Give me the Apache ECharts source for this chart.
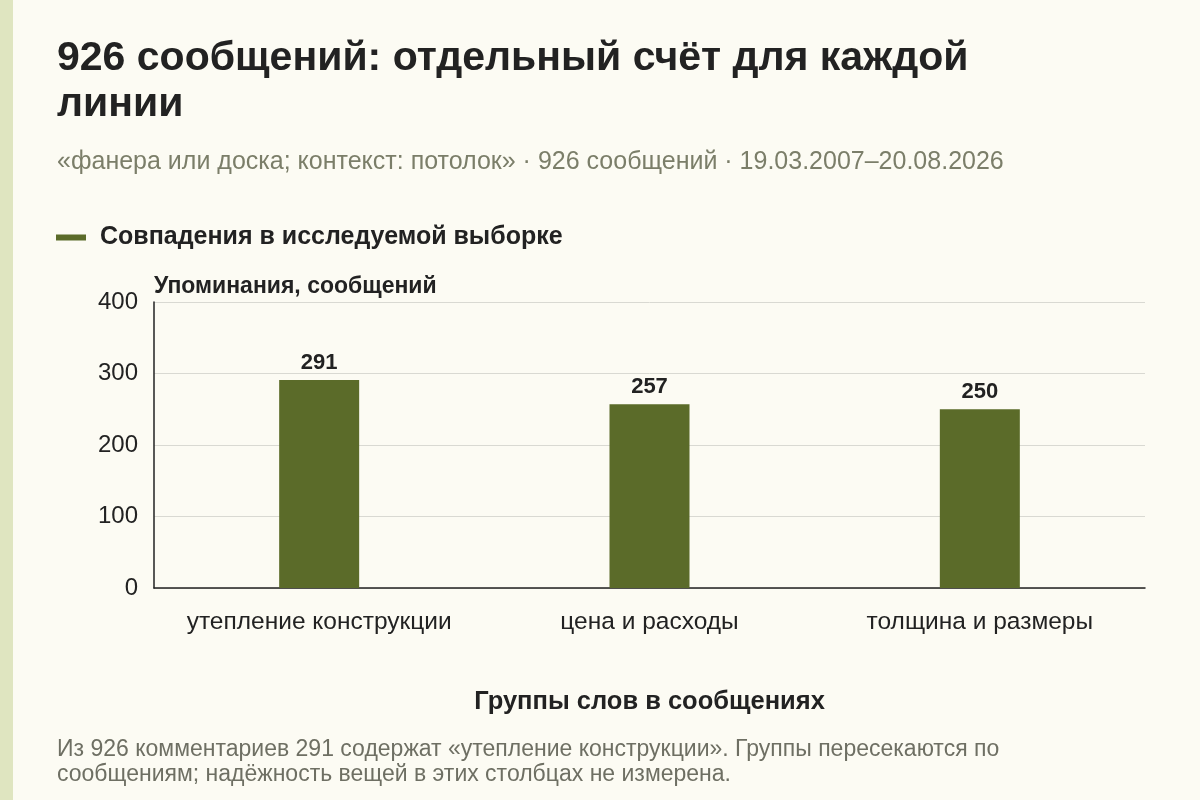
<!DOCTYPE html>
<html>
<head>
	<meta charset="utf-8">
	<title>926 сообщений</title>
	<script src="https://cdn.jsdelivr.net/npm/echarts@6/dist/echarts.min.js"></script>
	<style>
		body{margin:0;background:#fcfbf3;}
		#strip{position:absolute;left:0;top:0;width:13px;height:800px;background:#dfe5c0;}
	</style>
</head>
<body>
	<div id="strip"></div>
	<div id="container" style="width:1200px;height:800px;"></div>
	<script type="text/javascript">
	// данные графика
	var groups=["утепление конструкции","цена и расходы","толщина и размеры"];
	var counts=[291,257,250];
	var yTicks=[0,100,200,300,400];
	var seriesName="Совпадения в исследуемой выборке";

	var font='"Liberation Sans", Arial, sans-serif';
	var green='#5b6b29';

	var myChart=echarts.init(document.getElementById("container"));
	myChart.setOption({
		backgroundColor:'transparent',
		textStyle:{fontFamily:font},
		title:[
			{
				text:'926 сообщений: отдельный счёт для каждой\nлинии',
				left:57,top:36,padding:0,
				textStyle:{fontSize:41,fontWeight:'bold',color:'#222',lineHeight:46,fontFamily:font}
			},
			{
				text:'«фанера или доска; контекст: потолок» · 926 сообщений · 19.03.2007–20.08.2026',
				left:57,top:150,padding:0,
				textStyle:{fontSize:25,fontWeight:'normal',color:'#7b7e69',fontFamily:font}
			},
			{
				text:'Из 926 комментариев 291 содержат «утепление конструкции». Группы пересекаются по\nсообщениям; надёжность вещей в этих столбцах не измерена.',
				left:57,top:737,padding:0,
				textStyle:{fontSize:23,fontWeight:'normal',color:'#6e6f63',lineHeight:25,fontFamily:font}
			}
		],
		legend:{
			left:56,top:225,padding:0,
			icon:'rect',itemWidth:30,itemHeight:6,itemGap:14,
			textStyle:{fontSize:25,fontWeight:'bold',color:'#222',padding:[0,0,16,9]},
			data:[seriesName]
		},
		grid:{left:154,right:55,top:302,bottom:212},
		xAxis:{
			type:'category',
			data:groups,
			name:'Группы слов в сообщениях',
			nameLocation:'middle',
			nameGap:101,
			nameTextStyle:{fontSize:25.5,fontWeight:'bold',color:'#222'},
			axisLine:{lineStyle:{color:'#222',width:1.5}},
			axisTick:{alignWithLabel:true,length:6,lineStyle:{color:'#222',width:1.5}},
			axisLabel:{fontSize:24.5,color:'#222',margin:22,interval:0}
		},
		yAxis:{
			type:'value',
			min:yTicks[0],max:yTicks[yTicks.length-1],interval:100,
			name:'Упоминания, сообщений',
			nameLocation:'end',
			nameGap:4,
			nameTextStyle:{fontSize:23,fontWeight:'bold',color:'#222',align:'left',padding:[0,0,0,0]},
			axisLine:{show:true,lineStyle:{color:'#222',width:1.5}},
			axisTick:{show:false},
			axisLabel:{fontSize:24,color:'#222',margin:16},
			splitLine:{lineStyle:{color:'#d9d9d2',width:1}}
		},
		series:[{
			name:seriesName,
			type:'bar',
			data:counts,
			barWidth:80,
			itemStyle:{color:green},
			label:{show:true,position:'top',distance:6,fontSize:22,fontWeight:'bold',color:'#222'}
		}]
	});
	</script>
</body>
</html>
